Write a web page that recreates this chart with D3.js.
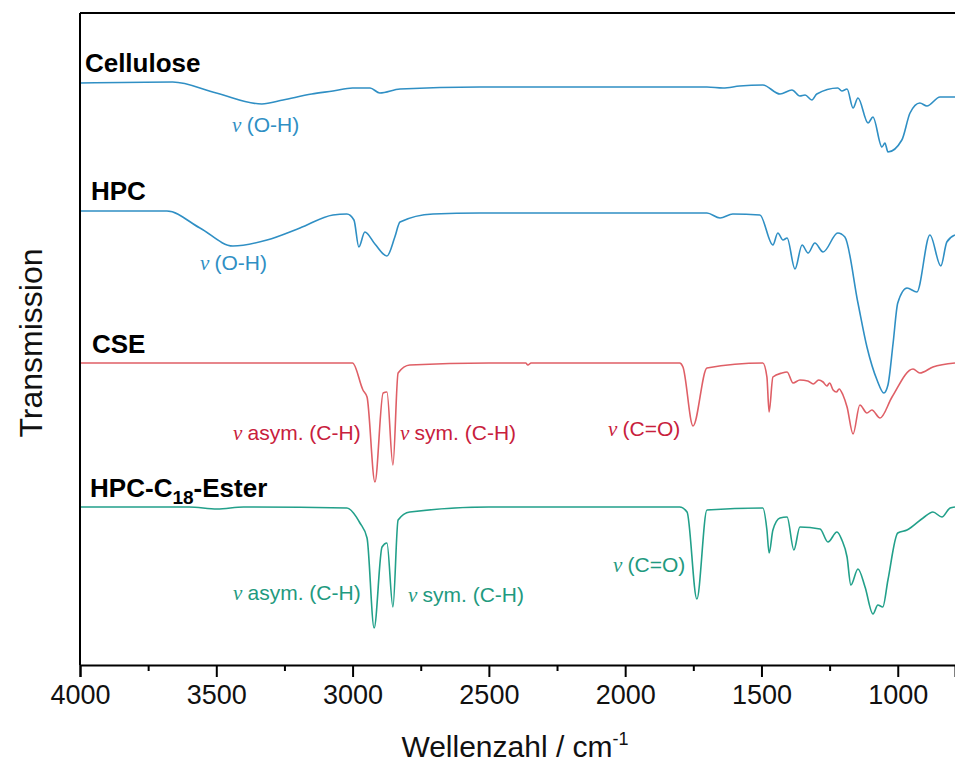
<!DOCTYPE html>
<html>
<head>
<meta charset="utf-8">
<script src="https://cdn.jsdelivr.net/npm/d3@7"></script>
<style>
  body { margin: 0; background: #fff; }
  svg { display: block; font-family: "Liberation Sans", Arial, sans-serif; }
</style>
</head>
<body>
<div id="chart"></div>
<script>
// Spectra: [wavenumber in cm-1, transmission in arbitrary units (offset stacked)]
const cellulose = [
  [4000, 58.2], [3660, 58.3], [3500, 57.2], [3333, 56.1], [3255, 56.5], [3150, 57.1],
  [3072, 57.4], [3000, 57.7], [2936, 57.7], [2900, 57.2], [2826, 57.6], [2533, 57.8],
  [1700, 57.8], [1641, 57.7], [1580, 57.9], [1495, 58.0], [1432, 57.1], [1388, 57.5],
  [1359, 56.9], [1340, 57.0], [1315, 56.5], [1297, 57.1], [1220, 57.7], [1205, 57.4],
  [1186, 57.6], [1164, 55.7], [1146, 56.7], [1109, 54.2], [1091, 54.8], [1058, 51.8],
  [1047, 52.2], [1036, 51.3], [985, 52.5], [955, 55.2], [919, 56.2], [893, 55.9],
  [845, 56.8], [790, 56.8]
];

const hpc = [
  [4000, 45.4], [3681, 45.4], [3560, 43.7], [3439, 41.9], [3314, 42.5], [3193, 43.7],
  [3072, 45.0], [3021, 45.1], [2995, 44.5], [2977, 41.8], [2955, 43.3], [2918, 42.1],
  [2874, 40.9], [2845, 42.8], [2826, 44.3], [2705, 45.1], [2533, 45.2], [1700, 45.2],
  [1652, 44.7], [1605, 45.1], [1506, 45.0], [1458, 42.0], [1440, 43.2], [1421, 42.5],
  [1406, 42.7], [1377, 39.6], [1351, 42.0], [1329, 41.2], [1304, 42.2], [1274, 41.3],
  [1220, 43.2], [1194, 42.8], [1146, 36.2], [1113, 31.8], [1076, 28.5], [1051, 27.2],
  [1036, 28.0], [1017, 32.2], [1000, 36.2], [966, 37.7], [930, 37.3], [882, 43.0],
  [842, 39.9], [820, 42.3], [790, 43.0]
];

const cse = [
  [4000, 30.2], [3000, 30.2], [2962, 27.5], [2947, 26.8], [2918, 18.3], [2888, 27.2],
  [2874, 27.3], [2852, 20.0], [2833, 29.2], [2790, 30.0], [2500, 30.2], [2365, 30.2],
  [2357, 30.0], [2345, 30.2], [1800, 30.2], [1788, 29.8], [1751, 23.9], [1700, 29.7],
  [1495, 30.2], [1480, 28.8], [1472, 25.3], [1458, 28.8], [1425, 29.2], [1406, 29.3],
  [1384, 28.2], [1359, 28.5], [1330, 28.4], [1310, 28.1], [1290, 28.5], [1274, 28.3],
  [1260, 27.9], [1250, 28.2], [1237, 27.5], [1225, 27.3], [1215, 27.6], [1201, 27.0],
  [1186, 25.8], [1164, 23.1], [1139, 26.0], [1113, 25.2], [1095, 25.5], [1065, 24.7],
  [1021, 26.8], [944, 29.6], [919, 29.2], [871, 29.8], [790, 30.2]
];

const ester = [
  [4000, 15.8], [3600, 15.8], [3497, 15.6], [3400, 15.8], [3021, 15.7], [2973, 14.2],
  [2947, 12.7], [2921, 3.7], [2892, 11.8], [2874, 12.2], [2852, 5.8], [2833, 14.5],
  [2790, 15.3], [2500, 15.8], [1800, 15.8], [1773, 15.3], [1737, 6.6], [1700, 15.5],
  [1495, 15.7], [1480, 13.5], [1472, 11.2], [1458, 13.5], [1432, 14.7], [1406, 14.8],
  [1381, 11.5], [1359, 13.8], [1285, 13.6], [1256, 12.3], [1223, 13.3], [1205, 12.5],
  [1186, 10.8], [1172, 8.0], [1146, 9.6], [1120, 7.8], [1091, 5.1], [1073, 6.0],
  [1055, 5.8], [1036, 8.5], [1000, 13.2], [966, 13.5], [907, 14.7], [871, 15.3],
  [838, 14.8], [808, 15.7], [790, 15.8]
];

const seriesNames = ["Cellulose", "HPC", "CSE", "HPC-C18-Ester"];
const seriesData = [cellulose, hpc, cse, ester];
const lineColors = ["#2f8fc4", "#2f8fc4", "#df5f66", "#22a08a"];
const textColors = ["#2f8fc4", "#2f8fc4", "#c8203c", "#1f9a80"];

// where the sample names sit [wavenumber, transmission]
const namePos = [[3982, 59.3], [3960, 46.5], [3956, 31.2], [3963, 16.8]];

// band assignments: series index, label, wavenumber, transmission
const bands = [
  [0, "(O-H)", 3442, 53.3],
  [1, "(O-H)", 3560, 39.5],
  [2, "asym. (C-H)", 3439, 22.5],
  [2, "sym. (C-H)", 2826, 22.5],
  [2, "(C=O)", 2063, 22.9],
  [3, "asym. (C-H)", 3439, 6.5],
  [3, "sym. (C-H)", 2797, 6.3],
  [3, "(C=O)", 2045, 9.3]
];

const majorTicks = [4000, 3500, 3000, 2500, 2000, 1500, 1000];
const minorTicks = [3750, 3250, 2750, 2250, 1750, 1250];

// Setup layout
const svgWidth = 955;
const svgHeight = 765;
const plotLeft = 80;
const plotTop = 13;
const plotBottom = 665;

const svg = d3.select("#chart")
  .append("svg")
  .attr("width", svgWidth)
  .attr("height", svgHeight);

const x = d3.scaleLinear()
  .domain([4000, 790])
  .range([plotLeft, svgWidth]);

const y = d3.scaleLinear()
  .domain([0, 65.2])
  .range([plotBottom, plotTop]);

// spectra
const line = d3.line()
  .x(d => x(d[0]))
  .y(d => y(d[1]))
  .curve(d3.curveMonotoneX);

seriesData.forEach((s, i) => {
  svg.append("path")
    .datum(s)
    .attr("fill", "none")
    .attr("stroke", lineColors[i])
    .attr("stroke-width", 1.6)
    .attr("stroke-linejoin", "round")
    .attr("d", line);
});

// frame: top and left
svg.append("line")
  .attr("x1", plotLeft).attr("x2", svgWidth)
  .attr("y1", plotTop).attr("y2", plotTop)
  .attr("stroke", "#000").attr("stroke-width", 2);

svg.append("line")
  .attr("x1", plotLeft).attr("x2", plotLeft)
  .attr("y1", plotTop).attr("y2", plotBottom)
  .attr("stroke", "#000").attr("stroke-width", 2);

// bottom axis
const xAxis = svg.append("g")
  .attr("transform", `translate(0, ${plotBottom})`)
  .call(d3.axisBottom(x).tickValues(majorTicks).tickSize(12).tickPadding(8).tickFormat(d3.format("d")));

xAxis.select(".domain").attr("stroke-width", 2);
xAxis.selectAll(".tick line").attr("stroke-width", 2);
xAxis.selectAll(".tick text")
  .attr("font-size", 27)
  .attr("font-family", "'Liberation Sans', Arial, sans-serif")
  .attr("fill", "#111");

// minor ticks
const minorAxis = svg.append("g")
  .attr("transform", `translate(0, ${plotBottom})`)
  .call(d3.axisBottom(x).tickValues(minorTicks).tickSize(6).tickFormat(""));
minorAxis.select(".domain").remove();
minorAxis.selectAll(".tick line").attr("stroke-width", 2);

// axis titles
const xTitle = svg.append("text")
  .attr("x", 515)
  .attr("y", 757)
  .attr("text-anchor", "middle")
  .attr("font-size", 30)
  .attr("fill", "#111")
  .text("Wellenzahl / cm");
xTitle.append("tspan")
  .attr("font-size", 18)
  .attr("dy", -12)
  .text("-1");

svg.append("text")
  .attr("transform", `translate(42, ${(plotTop + plotBottom) / 2 + 4}) rotate(-90)`)
  .attr("text-anchor", "middle")
  .attr("font-size", 32)
  .attr("fill", "#111")
  .text("Transmission");

// sample names
seriesNames.forEach((name, i) => {
  const t = svg.append("text")
    .attr("x", x(namePos[i][0]))
    .attr("y", y(namePos[i][1]))
    .attr("font-size", 26)
    .attr("font-weight", "bold")
    .attr("fill", "#000");
  if (name === "HPC-C18-Ester") {
    t.append("tspan").text("HPC-C");
    t.append("tspan").attr("font-size", 19).attr("dy", 7).text("18");
    t.append("tspan").attr("dy", -7).text("-Ester");
  } else {
    t.text(name);
  }
});

// band labels
bands.forEach(b => {
  const t = svg.append("text")
    .attr("x", x(b[2]))
    .attr("y", y(b[3]))
    .attr("font-size", 21)
    .attr("fill", textColors[b[0]]);
  t.append("tspan")
    .attr("font-family", "'Liberation Serif', 'Times New Roman', serif")
    .attr("font-style", "italic")
    .text("\u03bd ");
  t.append("tspan").text(b[1]);
});
</script>
</body>
</html>
